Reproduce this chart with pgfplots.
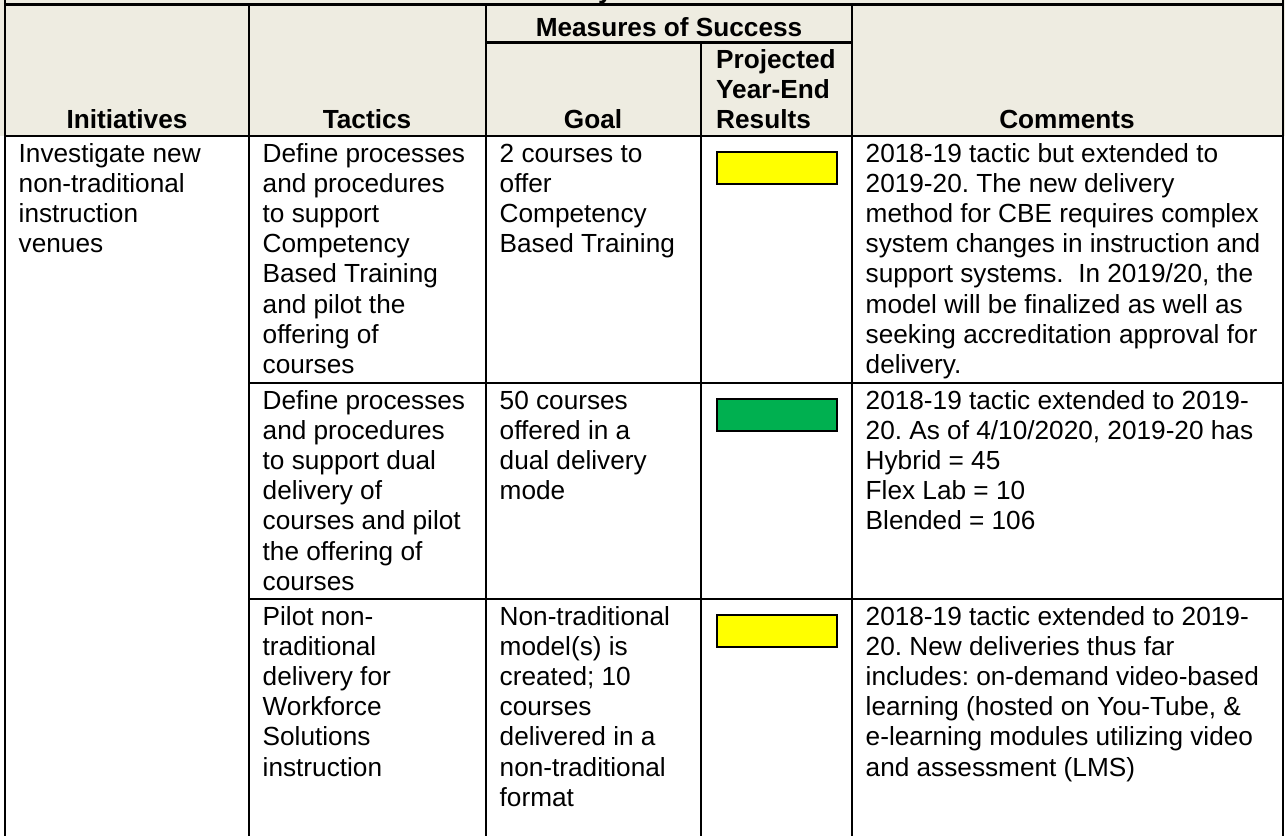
\documentclass[border=0pt]{standalone}
\usepackage{pgfplots}
\pgfplotsset{compat=1.18}
\usepackage{fontspec}
\setmainfont{Liberation Sans}
\frenchspacing
\definecolor{hdrbg}{RGB}{238,236,225}
\definecolor{ylw}{RGB}{255,255,0}
\definecolor{grn}{RGB}{0,176,80}
\begin{document}
\begin{tikzpicture}[
  tx/.style={anchor=base west, inner sep=0pt, font=\fontsize{26.2}{30}\selectfont},
  hd/.style={anchor=base, inner sep=0pt, font=\fontsize{26.2}{30}\selectfont\bfseries},
  hl/.style={anchor=base west, inner sep=0pt, font=\fontsize{26.2}{30}\selectfont\bfseries}]
\begin{axis}[scale only axis, width=1285pt, height=836pt,
  xmin=0, xmax=1285, ymin=0, ymax=836, y dir=reverse,
  hide axis, clip=true]
% backgrounds
\addplot[fill=white, draw=none] coordinates {(0,0) (1285,0) (1285,836) (0,836)} --cycle;
\addplot[fill=hdrbg, draw=none] coordinates {(0,0) (1285,0) (1285,136) (0,136)} --cycle;
% status boxes
\addplot[fill=ylw, draw=black, line width=2pt] coordinates {(717,152) (837,152) (837,184) (717,184)} --cycle;
\addplot[fill=grn, draw=black, line width=2pt] coordinates {(717,399) (837,399) (837,431) (717,431)} --cycle;
\addplot[fill=ylw, draw=black, line width=2pt] coordinates {(717,615) (837,615) (837,647) (717,647)} --cycle;
% grid lines
\addplot[black, line width=2.5pt] coordinates {(3.8,4.5) (1284.2,4.5)};
\addplot[black, line width=2.5pt] coordinates {(5,0) (5,836)};
\addplot[black, line width=2.5pt] coordinates {(1283,0) (1283,836)};
\addplot[black, line width=2.5pt] coordinates {(486,42.5) (852,42.5)};
\addplot[black, line width=2.5pt] coordinates {(5,136) (1283,136)};
\addplot[black, line width=2.5pt] coordinates {(249,4.5) (249,836)};
\addplot[black, line width=2.5pt] coordinates {(486,4.5) (486,836)};
\addplot[black, line width=2.5pt] coordinates {(701,42.5) (701,836)};
\addplot[black, line width=2.5pt] coordinates {(852,4.5) (852,836)};
\addplot[black, line width=2.5pt] coordinates {(249,383) (1283,383)};
\addplot[black, line width=2.5pt] coordinates {(249,599) (1283,599)};
% title remnant (clipped at the top edge, as in the reference)
\node[hl] at (598,-1.5) {y};
% header
\node[hd] at (669,36) {Measures of Success};
\node[hd] at (127,128) {Initiatives};
\node[hd] at (367,128) {Tactics};
\node[hd] at (593,128) {Goal};
\node[hd] at (1067,128) {Comments};
\node[hl] at (716,68) {Projected};
\node[hl] at (716,98) {Year-End};
\node[hl] at (716,128) {Results};
% row 1
\node[tx] at (18.5,162.5) {Investigate new};
\node[tx] at (18.5,192.6) {non-traditional};
\node[tx] at (18.5,222.7) {instruction};
\node[tx] at (18.5,252.8) {venues};
\node[tx] at (262.5,162.5) {Define processes};
\node[tx] at (262.5,192.6) {and procedures};
\node[tx] at (262.5,222.7) {to support};
\node[tx] at (262.5,252.8) {Competency};
\node[tx] at (262.5,282.9) {Based Training};
\node[tx] at (262.5,313.0) {and pilot the};
\node[tx] at (262.5,343.1) {offering of};
\node[tx] at (262.5,373.2) {courses};
\node[tx] at (499.5,162.5) {2 courses to};
\node[tx] at (499.5,192.6) {offer};
\node[tx] at (499.5,222.7) {Competency};
\node[tx] at (499.5,252.8) {Based Training};
\node[tx] at (865.5,162.5) {2018-19 tactic but extended to};
\node[tx] at (865.5,192.6) {2019-20. The new delivery};
\node[tx] at (865.5,222.7) {method for CBE requires complex};
\node[tx] at (865.5,252.8) {system changes in instruction and};
\node[tx] at (865.5,282.9) {support systems.\ \ In 2019/20, the};
\node[tx] at (865.5,313.0) {model will be finalized as well as};
\node[tx] at (865.5,343.1) {seeking accreditation approval for};
\node[tx] at (865.5,373.2) {delivery.};
% row 2
\node[tx] at (262.5,409.5) {Define processes};
\node[tx] at (262.5,439.6) {and procedures};
\node[tx] at (262.5,469.7) {to support dual};
\node[tx] at (262.5,499.8) {delivery of};
\node[tx] at (262.5,529.9) {courses and pilot};
\node[tx] at (262.5,560.0) {the offering of};
\node[tx] at (262.5,590.1) {courses};
\node[tx] at (499.5,409.5) {50 courses};
\node[tx] at (499.5,439.6) {offered in a};
\node[tx] at (499.5,469.7) {dual delivery};
\node[tx] at (499.5,499.8) {mode};
\node[tx] at (865.5,409.5) {2018-19 tactic extended to 2019-};
\node[tx] at (865.5,439.6) {20. As of 4/10/2020, 2019-20 has};
\node[tx] at (865.5,469.7) {Hybrid = 45};
\node[tx] at (865.5,499.8) {Flex Lab = 10};
\node[tx] at (865.5,529.9) {Blended = 106};
% row 3
\node[tx] at (262.5,625.5) {Pilot non-};
\node[tx] at (262.5,655.6) {traditional};
\node[tx] at (262.5,685.7) {delivery for};
\node[tx] at (262.5,715.8) {Workforce};
\node[tx] at (262.5,745.9) {Solutions};
\node[tx] at (262.5,776.0) {instruction};
\node[tx] at (499.5,625.5) {Non-traditional};
\node[tx] at (499.5,655.6) {model(s) is};
\node[tx] at (499.5,685.7) {created; 10};
\node[tx] at (499.5,715.8) {courses};
\node[tx] at (499.5,745.9) {delivered in a};
\node[tx] at (499.5,776.0) {non-traditional};
\node[tx] at (499.5,806.1) {format};
\node[tx] at (865.5,625.5) {2018-19 tactic extended to 2019-};
\node[tx] at (865.5,655.6) {20. New deliveries thus far};
\node[tx] at (865.5,685.7) {includes: on-demand video-based};
\node[tx] at (865.5,715.8) {learning (hosted on You-Tube, \&};
\node[tx] at (865.5,745.9) {e-learning modules utilizing video};
\node[tx] at (865.5,776.0) {and assessment (LMS)};
\coordinate (BBsw) at (axis cs:0,836);
\coordinate (BBne) at (axis cs:1285,0);
\end{axis}
\pgfresetboundingbox
\useasboundingbox (BBsw) rectangle (BBne);
\end{tikzpicture}
\end{document}
